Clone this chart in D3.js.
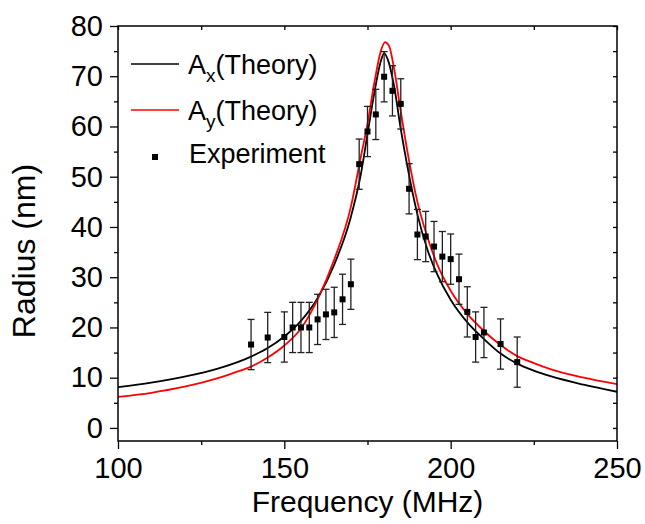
<!DOCTYPE html>
<html>
<head>
<meta charset="utf-8">
<script src="https://cdn.jsdelivr.net/npm/d3@7"></script>
<style>
  body { margin: 0; background: #fff; }
  svg { display: block; font-family: "Liberation Sans", Arial, sans-serif; }
</style>
</head>
<body>
<div id="chart"></div>
<script>
// theory curves
const axFreq = [100, 110, 120, 130, 140, 145, 150, 155, 160, 165, 170, 173, 175, 177, 179, 180, 181, 183, 185, 187, 190, 193, 196, 200, 205, 210, 215, 220, 225, 230, 240, 250];
const axVal  = [8.1, 9.0, 10.2, 11.8, 14.2, 15.9, 18.2, 21.3, 25.8, 32.5, 42.0, 50.5, 58.5, 66.5, 73.0, 74.6, 73.5, 68.0, 59.5, 52.0, 42.5, 35.5, 30.5, 25.5, 21.0, 17.7, 14.8, 12.8, 11.4, 10.3, 8.6, 7.2];

const ayFreq = [100, 110, 120, 130, 135, 140, 145, 150, 155, 160, 165, 170, 173, 175, 177, 179, 180.3, 181.5, 183, 185, 187, 190, 193, 196, 200, 205, 210, 215, 220, 225, 230, 240, 250];
const ayVal  = [6.2, 7.0, 8.2, 9.9, 11.0, 12.2, 14.0, 16.4, 19.8, 25.6, 33.5, 44.0, 54.0, 60.5, 68.5, 75.0, 76.8, 76.0, 71.5, 63.0, 55.0, 45.0, 38.0, 32.5, 27.3, 22.7, 19.3, 16.5, 14.3, 12.9, 11.7, 10.0, 8.7];

// experiment
const expFreq = [140, 145, 150, 152.5, 155, 157.5, 160, 162.5, 165, 167.5, 170, 172.5, 175, 177.5, 180, 182.5, 185, 187.5, 190, 192.5, 195, 197.5, 200, 202.5, 205, 207.5, 210, 215, 220];
const expVal  = [16.6, 18.0, 18.1, 20.0, 20.0, 20.0, 21.6, 22.6, 23.0, 25.6, 28.6, 52.5, 59.0, 62.4, 69.9, 67.1, 64.5, 47.6, 38.5, 38.1, 36.1, 34.1, 33.6, 29.6, 23.1, 18.1, 19.0, 16.7, 13.1];
const expErr  = [5, 5, 5, 5, 5, 5, 5, 5, 5, 5, 5, 5, 5, 5, 5, 5, 5, 5, 5, 5, 5, 5, 5, 5, 5, 5, 5, 5, 5];

const xMajor = [100, 150, 200, 250];
const xMinor = [125, 175, 225];
const yMajor = [0, 10, 20, 30, 40, 50, 60, 70, 80];
const yMinor = [5, 15, 25, 35, 45, 55, 65, 75];

function main() {
    const W = 645, H = 524;
    const left = 118, right = 617, top = 26, bottom = 441;

    const svg = d3.select("#chart").append("svg")
        .attr("width", W)
        .attr("height", H);

    const x = d3.scaleLinear().domain([100, 250]).range([left, right]);
    const y = d3.scaleLinear().domain([-2.6, 80]).range([bottom, top]);

    const plot = svg.append("g");

    // clip so the curves stay inside the frame
    svg.append("clipPath").attr("id", "clip")
        .append("rect").attr("x", left).attr("y", top)
        .attr("width", right - left).attr("height", bottom - top);

    const line = d3.line()
        .x(d => x(d[0]))
        .y(d => y(d[1]))
        .curve(d3.curveMonotoneX);

    const ax = axFreq.map((f, i) => [f, axVal[i]]);
    const ay = ayFreq.map((f, i) => [f, ayVal[i]]);

    plot.append("path")
        .datum(ax)
        .attr("clip-path", "url(#clip)")
        .attr("fill", "none")
        .attr("stroke", "#000")
        .attr("stroke-width", 1.8)
        .attr("d", line);

    plot.append("path")
        .datum(ay)
        .attr("clip-path", "url(#clip)")
        .attr("fill", "none")
        .attr("stroke", "#ff0000")
        .attr("stroke-width", 1.8)
        .attr("d", line);

    // error bars + squares
    const exp = expFreq.map((f, i) => ({ f: f, v: expVal[i], e: expErr[i] }));
    const eb = plot.append("g").attr("stroke", "#222").attr("stroke-width", 1.3);
    eb.selectAll(".bar").data(exp).join("line")
        .attr("x1", d => x(d.f)).attr("x2", d => x(d.f))
        .attr("y1", d => y(d.v + d.e)).attr("y2", d => y(d.v - d.e));
    eb.selectAll(".capT").data(exp).join("line")
        .attr("x1", d => x(d.f) - 3.5).attr("x2", d => x(d.f) + 3.5)
        .attr("y1", d => y(d.v + d.e)).attr("y2", d => y(d.v + d.e));
    eb.selectAll(".capB").data(exp).join("line")
        .attr("x1", d => x(d.f) - 3.5).attr("x2", d => x(d.f) + 3.5)
        .attr("y1", d => y(d.v - d.e)).attr("y2", d => y(d.v - d.e));

    plot.selectAll(".pt").data(exp).join("rect")
        .attr("x", d => x(d.f) - 3)
        .attr("y", d => y(d.v) - 3)
        .attr("width", 6)
        .attr("height", 6)
        .attr("fill", "#000");

    // axes
    const tickStyle = g => {
        g.select(".domain").remove();
        g.selectAll("line").attr("stroke", "#000").attr("stroke-width", 1.3);
        g.selectAll("text").attr("font-size", 29).attr("fill", "#000")
            .attr("font-family", "Liberation Sans, Arial, sans-serif");
    };

    svg.append("g")
        .attr("transform", `translate(0,${bottom})`)
        .call(d3.axisBottom(x).tickValues(xMajor).tickSize(8).tickPadding(8).tickFormat(d3.format("d")))
        .call(tickStyle);
    svg.append("g")
        .attr("transform", `translate(0,${bottom})`)
        .call(d3.axisBottom(x).tickValues(xMinor).tickSize(4).tickFormat(""))
        .call(tickStyle);
    svg.append("g")
        .attr("transform", `translate(${left},0)`)
        .call(d3.axisLeft(y).tickValues(yMajor).tickSize(8).tickPadding(7).tickFormat(d3.format("d")))
        .call(tickStyle);
    svg.append("g")
        .attr("transform", `translate(${left},0)`)
        .call(d3.axisLeft(y).tickValues(yMinor).tickSize(4).tickFormat(""))
        .call(tickStyle);

    // mirrored inner ticks on top/right
    svg.append("g")
        .attr("transform", `translate(0,${top})`)
        .call(d3.axisBottom(x).tickValues(xMajor.concat(xMinor)).tickSize(4).tickFormat(""))
        .call(tickStyle);
    svg.append("g")
        .attr("transform", `translate(${right},0)`)
        .call(d3.axisLeft(y).tickValues(yMajor.concat(yMinor)).tickSize(4).tickFormat(""))
        .call(tickStyle);

    // frame
    svg.append("rect")
        .attr("x", left).attr("y", top)
        .attr("width", right - left).attr("height", bottom - top)
        .attr("fill", "none").attr("stroke", "#000").attr("stroke-width", 1.5);

    // axis titles
    svg.append("text")
        .attr("x", (left + right) / 2)
        .attr("y", 512)
        .attr("text-anchor", "middle")
        .attr("font-size", 30)
        .text("Frequency (MHz)");

    svg.append("text")
        .attr("transform", "translate(35,251) rotate(-90)")
        .attr("text-anchor", "middle")
        .attr("font-size", 32)
        .text("Radius (nm)");

    // legend
    const leg = svg.append("g").attr("font-size", 27);
    leg.append("line").attr("x1", 131).attr("x2", 179).attr("y1", 64).attr("y2", 64)
        .attr("stroke", "#000").attr("stroke-width", 1.3);
    const t1 = leg.append("text").attr("x", 188).attr("y", 74);
    t1.append("tspan").text("A");
    t1.append("tspan").attr("font-size", 19).attr("dy", 8).text("x");
    t1.append("tspan").attr("dy", -8).text("(Theory)");

    leg.append("line").attr("x1", 131).attr("x2", 179).attr("y1", 110).attr("y2", 110)
        .attr("stroke", "#ff0000").attr("stroke-width", 1.3);
    const t2 = leg.append("text").attr("x", 188).attr("y", 120);
    t2.append("tspan").text("A");
    t2.append("tspan").attr("font-size", 19).attr("dy", 8).text("y");
    t2.append("tspan").attr("dy", -8).text("(Theory)");

    leg.append("rect").attr("x", 152).attr("y", 154).attr("width", 6).attr("height", 6).attr("fill", "#000");
    leg.append("text").attr("x", 189).attr("y", 163).text("Experiment");
}
main();
</script>
</body>
</html>
